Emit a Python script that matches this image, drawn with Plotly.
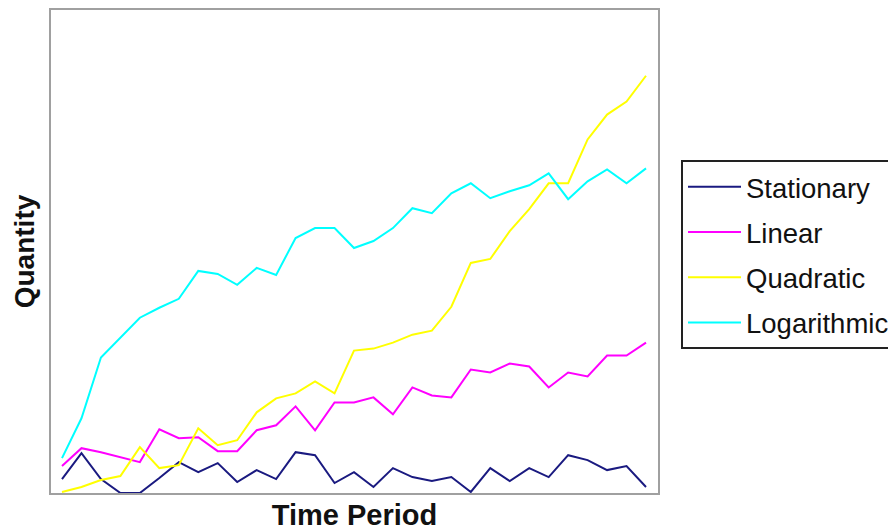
import plotly.graph_objects as go

periods = list(range(31))

stationary = [14, 40, 14, 0, 0, 15, 31, 21, 30, 11, 23, 14, 41, 38, 10, 21,
              6, 25, 16, 12, 16, 1, 25, 12, 25, 16, 38, 33, 23, 27, 6]
linear = [27, 45, 41, 36, 31, 64, 55, 56, 42, 42, 63, 68, 87, 63, 91, 91,
          96, 79, 106, 98, 96, 124, 121, 130, 127, 106, 121, 117, 138, 138, 151]
quadratic = [1, 6, 13, 17, 46, 25, 28, 65, 48, 53, 81, 95, 100, 112, 100, 143,
             145, 151, 159, 163, 187, 231, 235, 263, 285, 311, 311, 355, 380, 393, 419]
logarithmic = [35, 75, 136, 156, 176, 186, 195, 223, 220, 209, 226, 219, 256, 266, 266, 246,
               253, 266, 286, 281, 301, 311, 296, 303, 309, 321, 295, 313, 325, 311, 326]

names = ["Stationary", "Linear", "Quadratic", "Logarithmic"]
series = [stationary, linear, quadratic, logarithmic]
colors = ["#1a1a80", "#ff00ff", "#ffff00", "#00ffff"]

font_family = "Liberation Sans, Arial, sans-serif"

fig = go.Figure()
for name, vals, col in zip(names, series, colors):
    fig.add_trace(go.Scatter(x=periods, y=vals, mode="lines", name=name,
                             legendgroup=name,
                             line=dict(color=col, width=2)))

fig.update_layout(
    width=888, height=523,
    margin=dict(l=43, r=238, t=0, b=38),
    paper_bgcolor="white", plot_bgcolor="white",
    showlegend=True,
    legend=dict(x=1.0385, y=0.6885, xanchor="left", yanchor="top",
                bgcolor="white", bordercolor="#222222", borderwidth=2,
                font=dict(family=font_family, size=27.5, color="#111111"),
                itemwidth=53, tracegroupgap=6.5, traceorder="grouped"),
    xaxis=dict(range=[-0.565, 30.616], showgrid=False, zeroline=False,
               showticklabels=False, ticks="", showline=True, mirror=True,
               linecolor="#a0a0a0", linewidth=2,
               title=dict(text="Time Period", standoff=11,
                          font=dict(family=font_family, size=29, color="#111111", weight="bold"))),
    yaxis=dict(range=[0, 485], showgrid=False, zeroline=False,
               showticklabels=False, ticks="", showline=True, mirror=True,
               linecolor="#a0a0a0", linewidth=2,
               title=dict(text="Quantity", standoff=6,
                          font=dict(family=font_family, size=28, color="#111111", weight="bold"))),
)

fig.write_html("out.html")
